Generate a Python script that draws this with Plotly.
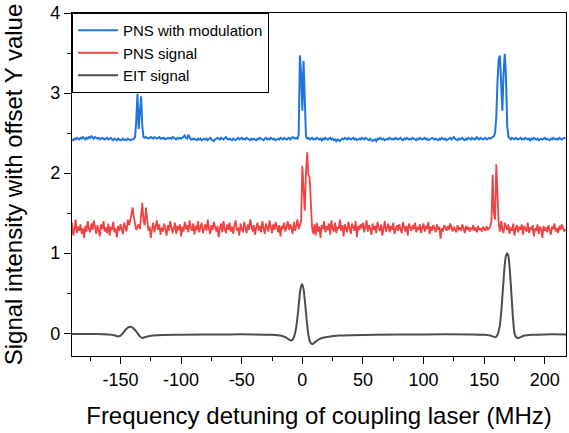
import numpy as np
import plotly.graph_objects as go

# ---------------- data ----------------
x_start = -190  # MHz, first sample of the 1-MHz grid for the noisy traces

pns_mod = [
    2.42,2.41,2.43,2.42,2.44,2.43,2.42,2.44,2.43,2.45,
    2.43,2.42,2.44,2.43,2.45,2.44,2.46,2.44,2.43,2.45,
    2.44,2.43,2.44,2.42,2.43,2.44,2.43,2.42,2.43,2.44,
    2.42,2.43,2.44,2.42,2.41,2.43,2.42,2.41,2.43,2.42,
    2.41,2.42,2.43,2.41,2.42,2.41,2.43,2.42,2.41,2.42,
    2.42,2.43,2.45,2.65,2.99,2.55,2.80,2.96,2.58,2.45,
    2.44,2.45,2.44,2.43,2.44,2.45,2.44,2.43,2.45,2.44,
    2.43,2.44,2.45,2.43,2.44,2.43,2.44,2.42,2.43,2.44,
    2.43,2.44,2.43,2.45,2.44,2.43,2.42,2.44,2.43,2.44,
    2.43,2.44,2.45,2.47,2.44,2.43,2.48,2.44,2.42,2.43,
    2.42,2.43,2.42,2.41,2.43,2.42,2.43,2.41,2.42,2.43,
    2.42,2.43,2.41,2.42,2.44,2.42,2.41,2.40,2.42,2.43,
    2.44,2.43,2.42,2.44,2.43,2.42,2.44,2.45,2.43,2.42,
    2.43,2.42,2.41,2.43,2.42,2.41,2.43,2.44,2.42,2.43,
    2.44,2.42,2.43,2.42,2.44,2.43,2.42,2.41,2.43,2.42,
    2.43,2.42,2.41,2.43,2.42,2.44,2.43,2.42,2.41,2.43,
    2.44,2.42,2.43,2.42,2.44,2.43,2.42,2.43,2.41,2.42,
    2.43,2.42,2.44,2.43,2.42,2.44,2.43,2.42,2.43,2.44,
    2.42,2.43,2.45,2.44,2.43,2.44,2.43,2.48,3.47,3.25,
    2.78,3.40,2.90,2.46,2.43,2.44,2.42,2.43,2.44,2.42,
    2.43,2.42,2.44,2.43,2.42,2.43,2.41,2.43,2.42,2.44,
    2.43,2.42,2.43,2.44,2.42,2.43,2.41,2.42,2.40,2.42,
    2.41,2.40,2.42,2.43,2.42,2.44,2.43,2.42,2.44,2.43,
    2.42,2.43,2.44,2.42,2.43,2.41,2.42,2.43,2.42,2.44,
    2.43,2.42,2.44,2.43,2.42,2.41,2.43,2.42,2.40,2.41,
    2.42,2.40,2.43,2.42,2.44,2.43,2.42,2.43,2.41,2.42,
    2.43,2.42,2.44,2.43,2.42,2.43,2.42,2.44,2.43,2.42,
    2.43,2.44,2.42,2.41,2.43,2.42,2.44,2.43,2.42,2.43,
    2.42,2.44,2.43,2.42,2.41,2.43,2.42,2.44,2.43,2.42,
    2.43,2.44,2.42,2.43,2.41,2.42,2.43,2.44,2.43,2.42,
    2.43,2.42,2.41,2.43,2.42,2.44,2.43,2.42,2.43,2.41,
    2.42,2.43,2.44,2.42,2.43,2.45,2.43,2.42,2.41,2.43,
    2.42,2.43,2.44,2.42,2.41,2.43,2.42,2.44,2.43,2.42,
    2.44,2.43,2.42,2.43,2.45,2.43,2.42,2.44,2.43,2.42,
    2.43,2.44,2.42,2.43,2.44,2.43,2.44,2.45,2.46,2.50,
    2.70,3.15,3.42,3.47,3.20,2.78,3.25,3.49,3.20,2.60,
    2.45,2.43,2.42,2.44,2.43,2.42,2.44,2.43,2.42,2.43,
    2.44,2.42,2.43,2.42,2.44,2.43,2.42,2.43,2.41,2.43,
    2.42,2.44,2.43,2.42,2.43,2.41,2.42,2.43,2.42,2.43,
    2.44,2.42,2.43,2.42,2.41,2.43,2.42,2.44,2.43,2.42,
    2.43,2.42,2.44,2.43,2.42,2.43,2.44,2.43,
]

pns_sig = [
    1.38,1.22,1.30,1.42,1.25,1.33,1.28,1.36,1.24,1.31,
    1.19,1.34,1.27,1.40,1.30,1.26,1.37,1.29,1.41,1.33,
    1.24,1.35,1.28,1.21,1.36,1.30,1.40,1.27,1.32,1.25,
    1.37,1.22,1.33,1.29,1.39,1.26,1.31,1.20,1.34,1.28,
    1.36,1.30,1.24,1.38,1.33,1.27,1.42,1.35,1.40,1.47,
    1.57,1.45,1.38,1.29,1.33,1.36,1.30,1.45,1.63,1.40,
    1.35,1.57,1.42,1.28,1.33,1.19,1.30,1.38,1.26,1.34,
    1.41,1.29,1.36,1.23,1.32,1.27,1.37,1.30,1.22,1.35,
    1.28,1.40,1.33,1.25,1.31,1.38,1.24,1.34,1.29,1.36,
    1.21,1.33,1.27,1.39,1.30,1.35,1.26,1.41,1.32,1.28,
    1.37,1.23,1.34,1.29,1.40,1.26,1.33,1.38,1.25,1.31,
    1.36,1.28,1.42,1.30,1.24,1.35,1.29,1.39,1.32,1.27,
    1.34,1.20,1.31,1.37,1.26,1.40,1.30,1.25,1.36,1.29,
    1.38,1.27,1.33,1.24,1.35,1.41,1.28,1.32,1.22,1.37,
    1.30,1.26,1.39,1.31,1.25,1.36,1.29,1.42,1.33,1.27,
    1.35,1.23,1.32,1.38,1.28,1.34,1.26,1.40,1.31,1.24,
    1.37,1.30,1.27,1.41,1.33,1.25,1.36,1.29,1.39,1.32,
    1.26,1.35,1.21,1.34,1.30,1.38,1.27,1.33,1.40,1.29,
    1.36,1.31,1.24,1.39,1.28,1.34,1.42,1.30,1.37,1.40,
    2.09,1.80,1.53,2.00,2.26,1.98,1.95,1.65,1.32,1.24,
    1.36,1.22,1.38,1.27,1.33,1.19,1.35,1.30,1.40,1.26,
    1.34,1.29,1.37,1.23,1.41,1.31,1.27,1.38,1.25,1.33,
    1.30,1.42,1.28,1.35,1.21,1.36,1.32,1.26,1.39,1.30,
    1.24,1.37,1.33,1.28,1.40,1.20,1.34,1.29,1.36,1.31,
    1.38,1.26,1.33,1.41,1.27,1.35,1.30,1.23,1.37,1.29,
    1.34,1.25,1.39,1.31,1.28,1.36,1.22,1.33,1.40,1.27,
    1.32,1.37,1.26,1.34,1.29,1.38,1.24,1.31,1.35,1.28,
    1.36,1.30,1.25,1.39,1.32,1.27,1.34,1.22,1.37,1.31,
    1.28,1.35,1.30,1.38,1.26,1.33,1.29,1.36,1.25,1.32,
    1.37,1.27,1.34,1.30,1.39,1.24,1.33,1.28,1.35,1.31,
    1.26,1.36,1.29,1.33,1.18,1.31,1.27,1.35,1.30,1.28,
    1.34,1.29,1.37,1.31,1.27,1.33,1.30,1.26,1.35,1.29,
    1.32,1.28,1.36,1.30,1.25,1.34,1.29,1.33,1.27,1.31,
    1.30,1.35,1.28,1.32,1.26,1.34,1.29,1.31,1.27,1.33,
    1.30,1.28,1.34,1.29,1.31,1.33,1.40,1.98,1.50,1.42,
    2.11,1.60,1.36,1.27,1.40,1.30,1.25,1.38,1.33,1.29,
    1.36,1.24,1.32,1.28,1.37,1.22,1.31,1.35,1.26,1.33,
    1.29,1.36,1.23,1.34,1.30,1.27,1.38,1.25,1.32,1.29,
    1.35,1.21,1.31,1.28,1.36,1.24,1.33,1.30,1.19,1.34,
    1.28,1.32,1.26,1.35,1.29,1.23,1.33,1.30,1.37,1.27,
    1.31,1.25,1.34,1.29,1.36,1.31,1.27,1.30,
]

eit_x = [-190, -170, -160, -155, -152, -150, -148, -146, -144, -142, -140, -138,
         -136, -134, -132, -130, -126, -120, -100, -60, -40, -25, -18, -14, -11,
         -9, -8, -7, -6, -5, -4, -3, -2, -1, 0, 1, 2, 3, 4, 5, 6, 7, 8, 9, 11,
         14, 18, 23, 30, 40, 60, 100, 140, 150, 155, 158, 159.5, 161, 162, 163,
         164, 165, 166, 167, 168, 169, 170, 171, 172, 173, 174, 175, 176, 177,
         178.5, 180, 183, 190, 200, 217.5]
eit_y = [-0.01, -0.01, -0.015, -0.025, -0.04, -0.03, 0.0, 0.04, 0.07, 0.08, 0.07, 0.04,
         0.0, -0.04, -0.06, -0.05, -0.035, -0.025, -0.02, -0.015, -0.015, -0.02, -0.03, -0.05, -0.08,
         -0.09, -0.08, -0.05, 0.0, 0.08, 0.2, 0.35, 0.5, 0.59, 0.61, 0.55, 0.42, 0.26, 0.1, -0.02, -0.09, -0.125, -0.135, -0.13, -0.105,
         -0.075, -0.055, -0.04, -0.03, -0.025, -0.02, -0.015, -0.015, -0.02, -0.03, -0.045, -0.05, -0.02, 0.03, 0.1,
         0.25, 0.45, 0.67, 0.86, 0.97, 1.0, 0.96, 0.82, 0.6, 0.36, 0.14, 0.0, -0.04, -0.055,
         -0.06, -0.05, -0.03, -0.02, -0.015, -0.015]

series_names = ["PNS with modulation", "PNS signal", "EIT signal"]
x_ticks = [-150, -100, -50, 0, 50, 100, 150, 200]
x_tick_labels = ["-150", "-100", "-50", "0", "50", "100", "150", "200"]
y_ticks = [0, 1, 2, 3, 4]
y_tick_labels = ["0", "1", "2", "3", "4"]

# ---------------- figure ----------------
grid_mod = x_start + np.arange(len(pns_mod))
grid_sig = x_start + np.arange(len(pns_sig))

FONT = "Liberation Sans, Arial, Helvetica, sans-serif"

fig = go.Figure()
fig.add_trace(go.Scatter(x=grid_mod, y=pns_mod, mode="lines", name=series_names[0],
                         line=dict(color="#1f74e0", width=2)))
fig.add_trace(go.Scatter(x=grid_sig, y=pns_sig, mode="lines", name=series_names[1],
                         line=dict(color="#ef4343", width=1.8)))
fig.add_trace(go.Scatter(x=eit_x, y=eit_y, mode="lines", name=series_names[2],
                         line=dict(color="#4d4d4d", width=2, shape="spline", smoothing=0.6)))

axis_common = dict(showline=True, linecolor="black", linewidth=1.3, mirror=True,
                   ticks="outside", tickcolor="black", tickwidth=1.3,
                   showgrid=False, zeroline=False, automargin=False,
                   tickfont=dict(family=FONT, size=18, color="black"))

fig.update_xaxes(range=[-190, 217.5], tickvals=x_ticks, ticktext=x_tick_labels, ticklen=7,
                 minor=dict(ticks="outside", dtick=25, tick0=0, ticklen=4, tickcolor="black", tickwidth=1.3),
                 title=dict(text="Frequency detuning of coupling laser (MHz)",
                            font=dict(family=FONT, size=24, color="black"), standoff=18),
                 **axis_common)
fig.update_yaxes(range=[-0.285, 4.0], tickvals=y_ticks, ticktext=y_tick_labels, ticklen=7,
                 minor=dict(ticks="outside", dtick=0.5, tick0=0, ticklen=4, tickcolor="black", tickwidth=1.3),
                 title=dict(text="Signal intensity with offset Y value",
                            font=dict(family=FONT, size=24, color="black"), standoff=20),
                 **axis_common)

fig.update_layout(
    width=569, height=433,
    margin=dict(l=72, r=3, t=13, b=77),
    plot_bgcolor="white", paper_bgcolor="white",
    legend=dict(x=0, y=1, xanchor="left", yanchor="top",
                bordercolor="black", borderwidth=1, bgcolor="white",
                font=dict(family=FONT, size=15, color="black"),
                itemwidth=40, tracegroupgap=0),
    showlegend=True,
)

fig.write_html("out.html", config={"displayModeBar": False},
               post_script="document.body.style.margin='0';document.body.style.overflow='hidden';")
